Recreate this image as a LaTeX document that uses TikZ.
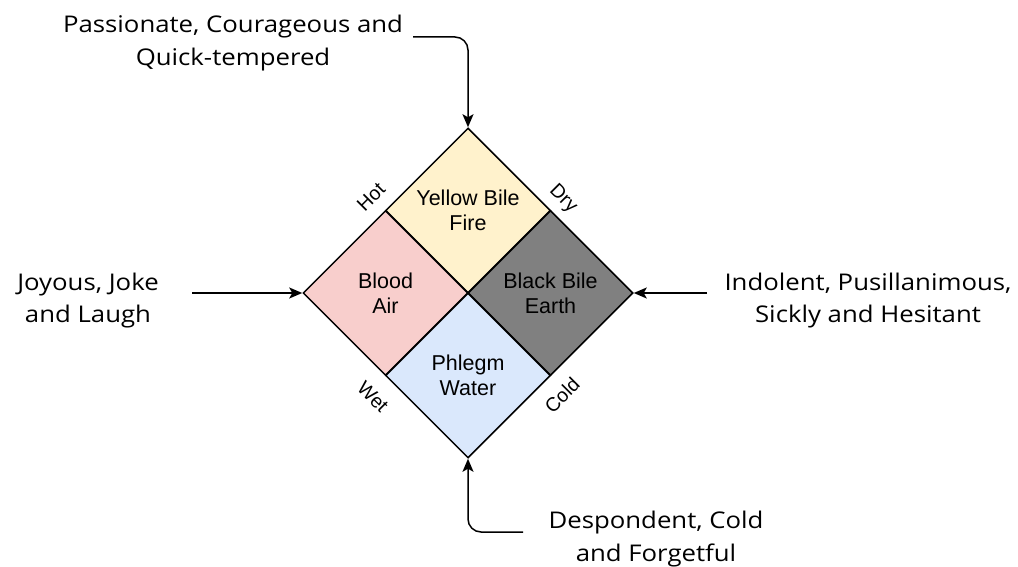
\documentclass[tikz,border=0pt]{standalone}
\usepackage{fontspec}
\setmainfont{Open Sans}[FakeStretch=1.12]
\newfontfamily\arialf{Liberation Sans}
\usetikzlibrary{shapes.geometric,arrows.meta}
\definecolor{fireC}{HTML}{FFF2CC}
\definecolor{bloodC}{HTML}{F8CECC}
\definecolor{earthC}{HTML}{808080}
\definecolor{waterC}{HTML}{DAE8FC}
\tikzset{
  quad/.style={diamond, draw=black, line width=1.5pt, aspect=1, inner sep=0pt,
    minimum width=165pt, minimum height=165pt, align=center,
    font=\arialf\fontsize{21.5}{25}\selectfont},
  outer/.style={align=center, inner sep=0pt, font=\fontsize{23}{32.5}\selectfont},
  qual/.style={inner sep=0pt, font=\arialf\fontsize{19.5}{22}\selectfont},
  conn/.style={line width=1.5pt, -{Stealth[length=13pt,width=11pt,inset=3pt]}, rounded corners=13pt}
}
\begin{document}
\begin{tikzpicture}[x=1pt,y=-1pt]
\useasboundingbox (0,0) rectangle (1018,567);
\node[quad, fill=fireC] (fire) at (468,210.5) {Yellow Bile\\Fire};
\node[quad, fill=bloodC] (blood) at (385.5,293) {Blood\\Air};
\node[quad, fill=earthC] (earth) at (550.5,293) {Black Bile\\Earth};
\node[quad, fill=waterC] (water) at (468,375.5) {Phlegm\\Water};
\node[qual, rotate=45] (hot) at (371,197) {Hot};
\node[qual, rotate=-45] (dry) at (563,199) {Dry};
\node[qual, rotate=-45] (wet) at (373,397) {Wet};
\node[qual, rotate=45] (cold) at (562,395) {Cold};
\node[outer] (tp) at (233,43) {Passionate, Courageous and\\Quick-tempered};
\node[outer] (lt) at (88,300.5) {Joyous, Joke\\and Laugh};
\node[outer] (rt) at (868,300.5) {Indolent, Pusillanimous,\\Sickly and Hesitant};
\node[outer] (bt) at (656,539) {Despondent, Cold\\and Forgetful};
\coordinate (tps) at (413,37);
\coordinate (lts) at (192,293);
\coordinate (rts) at (707,293);
\coordinate (bts) at (523,532);
\draw[conn] (tps) -| (fire.north);
\draw[conn] (lts) -- (blood.west);
\draw[conn] (rts) -- (earth.east);
\draw[conn] (bts) -| (water.south);
\end{tikzpicture}
\end{document}
